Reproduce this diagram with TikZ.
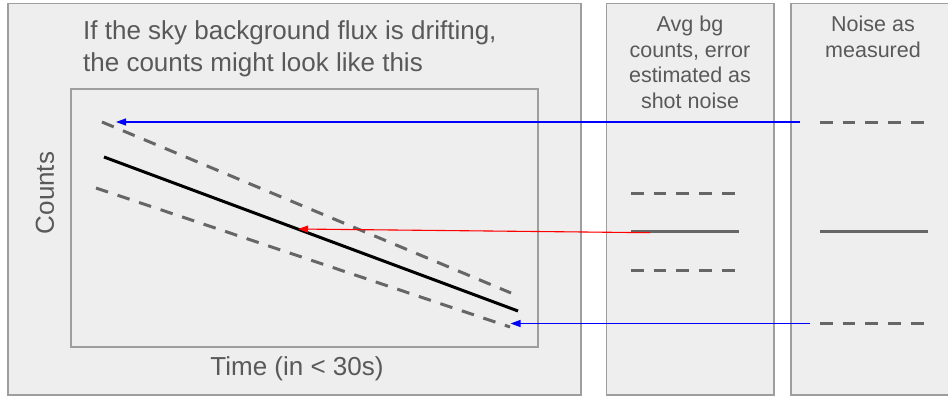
\documentclass[tikz,border=0pt]{standalone}
\usepackage{fontspec}
\setmainfont{Liberation Sans}
\usetikzlibrary{arrows.meta,positioning}
\definecolor{panelfill}{HTML}{EEEEEE}
\definecolor{paneldraw}{HTML}{9E9E9E}
\definecolor{labelgray}{HTML}{595959}
\definecolor{markgray}{HTML}{666666}
\tikzset{
  panelbox/.style={draw=paneldraw, fill=panelfill, line width=1.3pt, minimum height=391.5pt, inner sep=0pt, outer sep=0pt, anchor=north west},
  plotbox/.style={draw=paneldraw, line width=1.3pt, inner sep=0pt, outer sep=0pt, anchor=north west, minimum width=467pt, minimum height=258pt},
  titletext/.style={text=labelgray, align=left, font=\fontsize{26}{32}\selectfont, inner sep=0pt},
  axistext/.style={text=labelgray, font=\fontsize{26}{31}\selectfont, inner sep=0pt},
  paneltext/.style={text=labelgray, align=center, font=\fontsize{21.5}{25.6}\selectfont, inner sep=0pt},
  trendline/.style={line width=3pt, draw=black},
  errline/.style={line width=3pt, draw=markgray, dash pattern=on 12.7pt off 10pt},
  meanline/.style={line width=3pt, draw=markgray},
  bluemsg/.style={-{Triangle[length=10pt,width=7pt]}, line width=1.1pt, draw=blue, fill=blue},
  redmsg/.style={-{Triangle[length=10pt,width=7pt]}, line width=1.1pt, draw=red, fill=red}
}

\begin{document}
\begin{tikzpicture}[x=1pt, y=-1pt]
\useasboundingbox (0,0) rectangle (948,396);
\fill[white] (0,0) rectangle (948,396);
% the three panels
\node[panelbox, minimum width=573pt] (plotpanel) at (8,3.5) {};
\node[panelbox, minimum width=167.5pt] (shotpanel) at (606.5,3.5) {};
\node[panelbox, minimum width=164pt] (noisepanel) at (791,3.5) {};
\node[plotbox] (plot) at (71,89) {};

% texts
\node[titletext, anchor=north west] (title) at (83,20) {If the sky background flux is drifting,\\the counts might look like this};
\node[axistext, rotate=90] (countslbl) at (45,193) {Counts};
\node[axistext] (timelbl) at (297,369) {Time (in < 30s)};
\node[paneltext, anchor=north] (shottext) at (690,16) {Avg bg\\counts, error\\estimated as\\shot noise};
\node[paneltext, anchor=north] (noisetext) at (873,16) {Noise as\\measured};

% drifting counts
\coordinate (hiL) at (102,122);  \coordinate (hiR) at (511,293);
\coordinate (midL) at (104,157); \coordinate (midR) at (518,311);
\coordinate (loL) at (96,188);   \coordinate (loR) at (510,327);
\draw[errline] (hiL) -- (hiR);
\draw[trendline] (midL) -- (midR);
\draw[errline] (loL) -- (loR);

% shot noise marks
\coordinate (shothiL) at (631,193.3);  \coordinate (shothiR) at (735,193.3);
\coordinate (shotmidL) at (631,231.3); \coordinate (shotmidR) at (739,231.3);
\coordinate (shotloL) at (631,270.7);  \coordinate (shotloR) at (735,270.7);
\draw[errline] (shothiL) -- (shothiR);
\draw[meanline] (shotmidL) -- (shotmidR);
\draw[errline] (shotloL) -- (shotloR);

% measured noise marks
\coordinate (noisehiL) at (820,122);  \coordinate (noisehiR) at (924,122);
\coordinate (noisemidL) at (820,231); \coordinate (noisemidR) at (928,231);
\coordinate (noiseloL) at (820,323.5);  \coordinate (noiseloR) at (924,323.5);
\draw[errline] (noisehiL) -- (noisehiR);
\draw[meanline] (noisemidL) -- (noisemidR);
\draw[errline] (noiseloL) -- (noiseloR);

% pointers
\coordinate (hiFrom) at (800,122);    \coordinate (hiTip) at (116,122);
\coordinate (midFrom) at (650,232.7); \coordinate (midTip) at (298,229);
\coordinate (loFrom) at (810,323.5);  \coordinate (loTip) at (510.5,323.5);
\draw[bluemsg] (hiFrom) -- (hiTip);
\draw[redmsg] (midFrom) -- (midTip);
\draw[bluemsg] (loFrom) -- (loTip);
\end{tikzpicture}
\end{document}
